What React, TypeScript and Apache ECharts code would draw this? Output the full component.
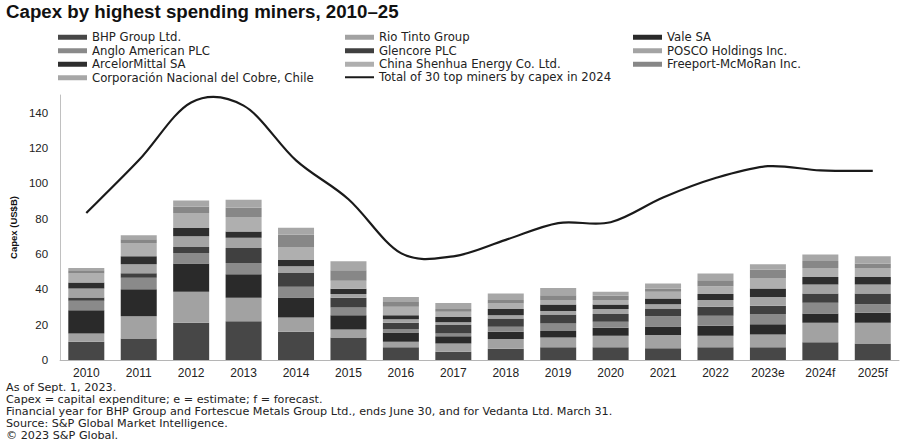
import React, { useEffect, useRef } from "react";
import * as echarts from "echarts";

const years = ["2010","2011","2012","2013","2014","2015","2016","2017","2018","2019","2020","2021","2022","2023e","2024f","2025f"];

const bhp      = [10.3, 12.2, 21.1, 22.0, 16.0, 12.8, 7.2, 4.7, 6.4, 7.2, 7.2, 6.6, 7.2, 7.2, 10.0, 9.4];
const rio      = [4.7, 12.6, 17.5, 13.2, 8.1, 4.5, 3.1, 4.7, 5.5, 5.6, 6.5, 7.5, 6.5, 7.3, 11.1, 11.7];
const vale     = [13.2, 15.3, 16.0, 13.3, 11.3, 8.1, 5.3, 4.1, 4.1, 3.6, 4.5, 4.9, 5.7, 5.8, 5.2, 5.6];
const anglo    = [5.3, 6.4, 6.0, 6.4, 6.0, 4.3, 1.9, 1.5, 2.8, 4.3, 3.4, 5.8, 5.6, 5.7, 6.1, 4.9];
const glencore = [1.9, 2.6, 3.4, 8.5, 7.9, 5.5, 3.6, 4.8, 4.7, 5.1, 4.4, 4.4, 5.1, 4.7, 5.2, 6.0];
const posco    = [5.1, 5.1, 6.0, 5.8, 3.8, 2.1, 1.9, 1.5, 1.9, 2.0, 2.8, 2.4, 3.8, 5.0, 5.1, 5.1];
const arcelor  = [3.4, 4.5, 4.7, 3.6, 3.5, 3.0, 2.4, 3.0, 3.4, 3.6, 2.6, 3.2, 3.4, 4.8, 4.3, 4.3];
const shenhua  = [5.0, 7.5, 8.5, 8.1, 7.4, 4.5, 4.7, 3.0, 3.2, 2.5, 2.5, 3.8, 4.5, 5.6, 5.1, 5.1];
const freeport = [1.9, 2.1, 3.7, 5.3, 7.0, 6.0, 2.8, 1.5, 2.0, 2.8, 2.4, 1.9, 3.4, 5.1, 4.0, 2.5];
const codelco  = [1.3, 2.3, 3.4, 4.5, 3.9, 5.1, 2.8, 3.4, 3.6, 4.1, 2.3, 2.8, 3.7, 3.0, 3.6, 4.1];
const total30  = [83.2, 113, 145.8, 144, 113, 91, 60.5, 58.7, 68, 77.5, 78, 92, 103, 109.7, 107.3, 107];

const barSeriesDefs = [
  { name: "BHP Group Ltd.", data: bhp, color: "#474747" },
  { name: "Rio Tinto Group", data: rio, color: "#a2a2a2" },
  { name: "Vale SA", data: vale, color: "#2a2a2a" },
  { name: "Anglo American PLC", data: anglo, color: "#8a8a8a" },
  { name: "Glencore PLC", data: glencore, color: "#404040" },
  { name: "POSCO Holdings Inc.", data: posco, color: "#a4a4a4" },
  { name: "ArcelorMittal SA", data: arcelor, color: "#2e2e2e" },
  { name: "China Shenhua Energy Co. Ltd.", data: shenhua, color: "#afafaf" },
  { name: "Freeport-McMoRan Inc.", data: freeport, color: "#878787" },
  { name: "Corporación Nacional del Cobre, Chile", data: codelco, color: "#a7a7a7" },
];
const lineName = "Total of 30 top miners by capex in 2024";

const footnotes = [
  "As of Sept. 1, 2023.",
  "Capex = capital expenditure; e = estimate; f = forecast.",
  "Financial year for BHP Group and Fortescue Metals Group Ltd., ends June 30, and for Vedanta Ltd. March 31.",
  "Source: S&P Global Market Intelligence.",
  "© 2023 S&P Global.",
];

const FONT = "'Liberation Sans', Arial, sans-serif";
const WIDE = "'DejaVu Sans', sans-serif";

function splinePath(pts: number[][]): string {
  let d = `M${pts[0][0]},${pts[0][1]}`;
  for (let i = 0; i < pts.length - 1; i++) {
    const p0 = pts[Math.max(0, i - 1)];
    const p1 = pts[i];
    const p2 = pts[i + 1];
    const p3 = pts[Math.min(pts.length - 1, i + 2)];
    const c1x = p1[0] + (p2[0] - p0[0]) / 6;
    const c1y = p1[1] + (p2[1] - p0[1]) / 6;
    const c2x = p2[0] - (p3[0] - p1[0]) / 6;
    const c2y = p2[1] - (p3[1] - p1[1]) / 6;
    d += ` C${c1x},${c1y} ${c2x},${c2y} ${p2[0]},${p2[1]}`;
  }
  return d;
}

export default function App() {
  const ref = useRef<HTMLDivElement>(null);
  useEffect(() => {
    document.body.style.margin = "0";
    const chart = echarts.init(ref.current!, null, { renderer: "svg" });
    const legendCommon = {
      orient: "vertical" as const,
      itemWidth: 29,
      itemHeight: 5,
      itemGap: 1,
      padding: 0,
      selectedMode: false,
      textStyle: { fontSize: 11.7, color: "#222", fontFamily: WIDE, lineHeight: 12.5 },
    };
    const n = barSeriesDefs.map((d) => ({ name: d.name, icon: "rect" }));
    chart.setOption({
      animation: false,
      textStyle: { fontFamily: FONT },
      title: {
        text: "Capex by highest spending miners, 2010–25",
        left: 6,
        top: 2,
        padding: [0, 0, 0, 0],
        textStyle: { fontSize: 18.7, fontWeight: "bold", color: "#111", fontFamily: FONT },
      },
      legend: [
        { ...legendCommon, left: 58, top: 31, data: [n[0], n[3], n[6], n[9]] },
        { ...legendCommon, left: 345, top: 31, data: [n[1], n[4], n[7]] },
        { ...legendCommon, left: 345, top: 71, itemHeight: 2, data: [{ name: lineName, icon: "rect" }] },
        { ...legendCommon, left: 633, top: 31, data: [n[2], n[5], n[8]] },
      ],
      grid: { left: 57, right: 1, top: 95, bottom: 83, containLabel: false },
      xAxis: {
        type: "category",
        data: years,
        axisLine: { lineStyle: { color: "#b5b5b5", width: 1 } },
        axisTick: { show: false },
        axisLabel: { fontSize: 12, color: "#222", margin: 7, fontFamily: FONT },
      },
      yAxis: {
        type: "value",
        min: 0,
        max: 150,
        interval: 20,
        name: "Capex (US$B)",
        nameLocation: "middle",
        nameGap: 37,
        nameTextStyle: { fontSize: 9.5, fontWeight: "bold", color: "#111", fontFamily: FONT },
        axisLine: { show: true, lineStyle: { color: "#c0c0c0", width: 1 } },
        axisTick: { show: false },
        splitLine: { show: false },
        axisLabel: { fontSize: 11.5, color: "#222", margin: 12, showMaxLabel: false, fontFamily: FONT },
      },
      series: [
        ...barSeriesDefs.map((d) => ({
          name: d.name,
          type: "bar",
          stack: "capex",
          data: d.data,
          barWidth: 36,
          itemStyle: { color: d.color },
          emphasis: { disabled: true },
        })),
        {
          name: lineName,
          type: "custom",
          data: total30.map((v, i) => [i, v]),
          itemStyle: { color: "#1a1a1a" },
          z: 5,
          clip: false,
          encode: { x: 0, y: 1 },
          renderItem: (params: any, api: any) => {
            if (params.dataIndex !== 0) return null;
            const pts = total30.map((v, i) => api.coord([i, v]));
            return {
              type: "path",
              shape: { pathData: splinePath(pts) },
              style: { stroke: "#1a1a1a", lineWidth: 2.2, fill: "none" },
              silent: true,
            };
          },
        },
      ],
      graphic: footnotes.map((t, i) => ({
        type: "text",
        left: 6,
        top: 382 + i * 12,
        style: { text: t, fontSize: 11.2, fill: "#222", fontFamily: WIDE },
      })),
    });
    return () => chart.dispose();
  }, []);
  return <div ref={ref} style={{ width: 900, height: 443 }} />;
}
